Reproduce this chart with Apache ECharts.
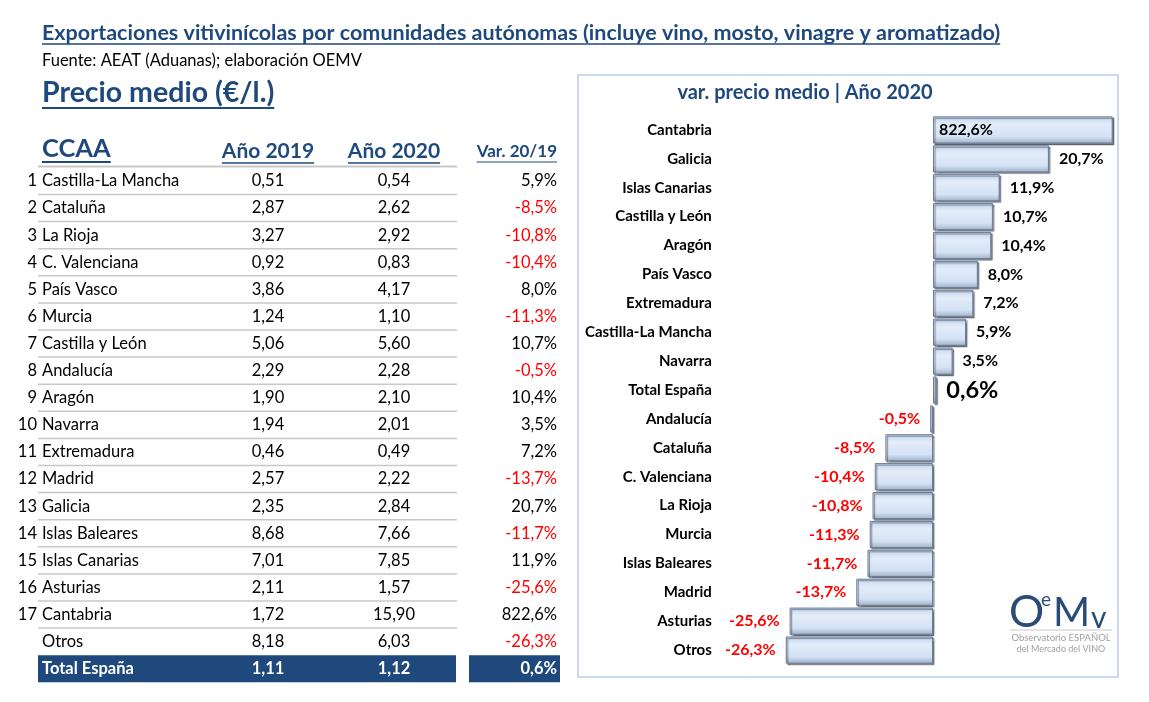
<!DOCTYPE html>
<html>
<head>
<meta charset="utf-8">
<script src="https://cdn.jsdelivr.net/npm/echarts@6/dist/echarts.min.js"></script>
<style>
html, body { margin: 0; padding: 0; background: #fff; }
#main { width: 1149px; height: 702px; }
</style>
</head>
<body>
<div id="main"></div>
<script>
// datos de la tabla (precio medio €/l.)
var regions = ['Castilla-La Mancha', 'Cataluña', 'La Rioja', 'C. Valenciana', 'País Vasco', 'Murcia',
    'Castilla y León', 'Andalucía', 'Aragón', 'Navarra', 'Extremadura', 'Madrid', 'Galicia',
    'Islas Baleares', 'Islas Canarias', 'Asturias', 'Cantabria', 'Otros'];
var price2019 = [0.51, 2.87, 3.27, 0.92, 3.86, 1.24, 5.06, 2.29, 1.90, 1.94, 0.46, 2.57, 2.35, 8.68, 7.01, 2.11, 1.72, 8.18];
var price2020 = [0.54, 2.62, 2.92, 0.83, 4.17, 1.10, 5.60, 2.28, 2.10, 2.01, 0.49, 2.22, 2.84, 7.66, 7.85, 1.57, 15.90, 6.03];
var varPct = [5.9, -8.5, -10.8, -10.4, 8.0, -11.3, 10.7, -0.5, 10.4, 3.5, 7.2, -13.7, 20.7, -11.7, 11.9, -25.6, 822.6, -26.3];
var totalName = 'Total España';
var total2019 = 1.11;
var total2020 = 1.12;
var totalVar = 0.6;

var FONT = 'Lato, "Open Sans", sans-serif';
var BLUE = '#1f497d';
var RED = '#ff0000';

var ctx = document.createElement('canvas').getContext('2d');
function textWidth(text, font) {
    ctx.font = font;
    return ctx.measureText(text).width;
}
function fmt(v, d) {
    return v.toFixed(d).replace('.', ',');
}

var graphics = [];

function addText(text, x, y, size, weight, color, align) {
    graphics.push({
        type: 'text',
        x: x, y: y,
        style: {
            text: text,
            fontSize: size,
            fontWeight: weight,
            fontFamily: FONT,
            fill: color,
            textAlign: align || 'left',
            textVerticalAlign: 'middle'
        }
    });
}
function addLine(x1, y1, x2, y2, color, w) {
    graphics.push({
        type: 'line',
        shape: {x1: x1, y1: y1, x2: x2, y2: y2},
        style: {stroke: color, lineWidth: w}
    });
}
// texto subrayado
function addUnderlined(text, x, y, size, color, align, gap, lw) {
    addText(text, x, y, size, 'bold', color, align);
    var w = textWidth(text, 'bold ' + size + 'px ' + FONT);
    var x0 = x;
    if (align === 'center') x0 = x - w / 2;
    if (align === 'right') x0 = x - w;
    addLine(x0, y + gap, x0 + w, y + gap, color, lw);
}

// titulos
addUnderlined('Exportaciones vitivinícolas por comunidades autónomas (incluye vino, mosto, vinagre y aromatizado)',
    42, 33, 21.5, BLUE, 'left', 11, 1.5);
addText('Fuente: AEAT (Aduanas); elaboración OEMV', 42, 61, 16.5, 'normal', '#000', 'left');
addUnderlined('Precio medio (€/l.)', 42, 93, 28.5, BLUE, 'left', 15, 2);

// cabecera tabla
var colName = 42, col2019 = 268, col2020 = 394, colVar = 557;
var fs = 16.5;
addUnderlined('CCAA', colName, 149, 25.5, BLUE, 'left', 13, 2);
addUnderlined('Año 2019', col2019, 151, 21, BLUE, 'center', 12, 1.5);
addUnderlined('Año 2020', col2020, 151, 21, BLUE, 'center', 12, 1.5);
addUnderlined('Var. 20/19', colVar, 152, 17, BLUE, 'right', 10, 1.2);
addLine(38, 166.5, 457, 166.5, '#c8c8c8', 2);

var rowY0 = 181, rowH = 27.1;
for (var i = 0; i < regions.length; i++) {
    var y = rowY0 + i * rowH;
    if (i < 17) addText(String(i + 1), 37, y, fs, 'normal', '#000', 'right');
    addText(regions[i], colName, y, fs, 'normal', '#000', 'left');
    addText(fmt(price2019[i], 2), col2019, y, fs, 'normal', '#000', 'center');
    addText(fmt(price2020[i], 2), col2020, y, fs, 'normal', '#000', 'center');
    addText(fmt(varPct[i], 1) + '%', colVar, y, fs, 'normal', varPct[i] < 0 ? RED : '#000', 'right');
    if (i < regions.length - 1) addLine(38, y + 13.5, 457, y + 13.5, '#c8c8c8', 1.5);
}
// fila total
var yT = rowY0 + regions.length * rowH;
graphics.push({type: 'rect', shape: {x: 38, y: yT - 13.5, width: 418, height: 27}, style: {fill: BLUE}});
graphics.push({type: 'rect', shape: {x: 469, y: yT - 13.5, width: 91, height: 27}, style: {fill: BLUE}});
addText(totalName, colName, yT, fs, 'bold', '#fff', 'left');
addText(fmt(total2019, 2), col2019, yT, fs, 'bold', '#fff', 'center');
addText(fmt(total2020, 2), col2020, yT, fs, 'bold', '#fff', 'center');
addText(fmt(totalVar, 1) + '%', colVar, yT, fs, 'bold', '#fff', 'right');

// recuadro del grafico
graphics.push({type: 'rect', shape: {x: 578, y: 75, width: 540, height: 602},
    style: {fill: 'none', stroke: '#b9cde5', lineWidth: 1.5}});
addText('var. precio medio | Año 2020', 805, 93, 20, 'bold', BLUE, 'center');

// logo OEMV
addText('O', 1009, 613, 44, 'normal', '#2a4a78', 'left');
addText('e', 1041, 600, 19, 'normal', '#2a4a78', 'left');
addText('M', 1053, 613, 40, 'normal', '#2a4a78', 'left');
addText('v', 1091, 618, 30, 'normal', '#2a4a78', 'left');
addLine(1010, 630, 1112, 630, '#c9c9c9', 1);
addText('Observatorio ESPAÑOL', 1061, 638, 9.5, 'normal', '#a0a0a0', 'center');
addText('del Mercado del VINO', 1061, 649, 9, 'normal', '#a0a0a0', 'center');

// datos del grafico ordenados de mayor a menor
var chartRows = regions.map(function (r, i) { return {name: r, value: varPct[i]}; });
chartRows.push({name: totalName, value: totalVar});
chartRows.sort(function (a, b) { return b.value - a.value; });
var chartNames = chartRows.map(function (d) { return d.name; });
var xMin = -27, xMax = 32;
var chartData = chartRows.map(function (d) {
    var neg = d.value < 0;
    var big = d.name === totalName;
    var inside = d.value > xMax;
    return {
        value: d.value,
        label: {
            show: true,
            position: inside ? 'insideLeft' : (neg ? 'left' : 'right'),
            distance: inside ? 6 : 10,
            color: neg ? RED : '#000',
            fontSize: big ? 23.5 : 16,
            fontWeight: 'bold',
            fontFamily: FONT,
            formatter: fmt(d.value, 1) + '%'
        }
    };
});

var myChart = echarts.init(document.getElementById('main'));
var option = {
    animation: false,
    grid: {left: 781.8, width: 330.4, top: 115.5, height: 549},
    xAxis: {type: 'value', min: xMin, max: xMax, show: false},
    yAxis: {
        type: 'category',
        inverse: true,
        data: chartNames,
        axisLine: {show: false},
        axisTick: {show: false},
        axisLabel: {margin: 70, color: '#000', fontWeight: 'bold', fontSize: 15, fontFamily: FONT}
    },
    series: [{
        type: 'bar',
        clip: true,
        barCategoryGap: '6%',
        data: chartData,
        itemStyle: {
            color: new echarts.graphic.LinearGradient(0, 0, 0, 1, [
                {offset: 0, color: '#c3d6ee'},
                {offset: 0.3, color: '#e3ecf9'},
                {offset: 0.75, color: '#d4e2f5'},
                {offset: 1, color: '#9fb0c6'}
            ]),
            borderColor: '#6a7c98',
            borderWidth: 1,
            shadowColor: 'rgba(40,45,60,0.55)',
            shadowOffsetX: 1.5,
            shadowOffsetY: 1.5,
            shadowBlur: 1
        }
    }],
    graphic: graphics
};
myChart.setOption(option);
</script>
</body>
</html>
